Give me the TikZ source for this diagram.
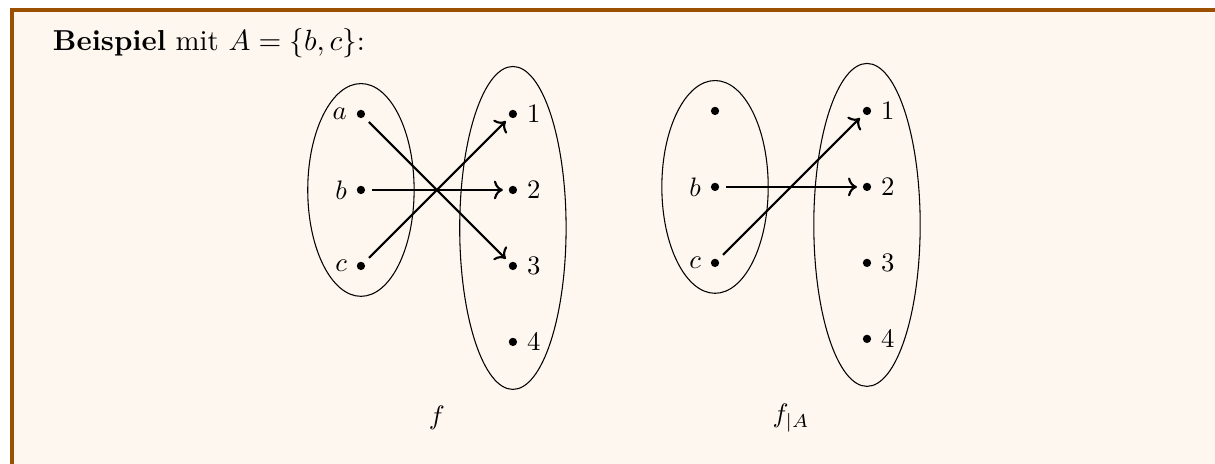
\documentclass[tikz,border=0pt]{standalone}
\usepackage{amsmath}
\usepackage{amssymb}
\usetikzlibrary{arrows.meta,positioning,shapes.geometric}
\definecolor{framebrown}{RGB}{155,79,0}
\definecolor{boxcream}{RGB}{254,247,240}

\begin{document}
\begin{tikzpicture}[
    x=1cm,
    y=1cm,
    dot/.style={circle, fill, inner sep=1.1pt},
    setbox/.style={draw, ellipse, line width=0.4pt, inner sep=0pt, minimum width=1.4cm},
    map/.style={->, thick, shorten <=2.5pt, shorten >=2pt}
]
\useasboundingbox (0,0) rectangle (15.99,-6.105);
\fill[boxcream] (0.14,-0.12) rectangle (15.99,-6.105);
\draw[framebrown, line width=1.5pt] (0.16,-6.105) -- (0.16,-0.13) -- (15.99,-0.13);

\node[anchor=base west, inner sep=0pt, font=\fontsize{10.8}{13}\selectfont] (title) at (0.69,-0.66) {\textbf{Beispiel} mit $A=\{b,c\}$:};

\node[setbox, minimum height=2.8cm] (domf) at (4.75,-2.5) {};
\node[setbox, minimum height=4.25cm] (codf) at (6.75,-3.0) {};
\node[dot, label=left:$a$] (a) at (4.75,-1.5) {};
\node[dot, label=left:$b$] (b) at (4.75,-2.5) {};
\node[dot, label=left:$c$] (c) at (4.75,-3.5) {};
\node[dot, label=right:$1$] (one) at (6.75,-1.5) {};
\node[dot, label=right:$2$] (two) at (6.75,-2.5) {};
\node[dot, label=right:$3$] (three) at (6.75,-3.5) {};
\node[dot, label=right:$4$] (four) at (6.75,-4.5) {};
\node (f) at (5.75,-5.5) {$f$};

\node[setbox, minimum height=2.8cm] (domr) at (9.41,-2.46) {};
\node[setbox, minimum height=4.25cm] (codr) at (11.41,-2.96) {};
\node[dot] (ar) at (9.41,-1.46) {};
\node[dot, label=left:$b$] (br) at (9.41,-2.46) {};
\node[dot, label=left:$c$] (cr) at (9.41,-3.46) {};
\node[dot, label=right:$1$] (oner) at (11.41,-1.46) {};
\node[dot, label=right:$2$] (twor) at (11.41,-2.46) {};
\node[dot, label=right:$3$] (threer) at (11.41,-3.46) {};
\node[dot, label=right:$4$] (fourr) at (11.41,-4.46) {};
\node (fr) at (10.41,-5.5) {$f_{|A}$};

\draw[map] (a) -- (three);
\draw[map] (b) -- (two);
\draw[map] (c) -- (one);
\draw[map] (br) -- (twor);
\draw[map] (cr) -- (oner);
\end{tikzpicture}
\end{document}
